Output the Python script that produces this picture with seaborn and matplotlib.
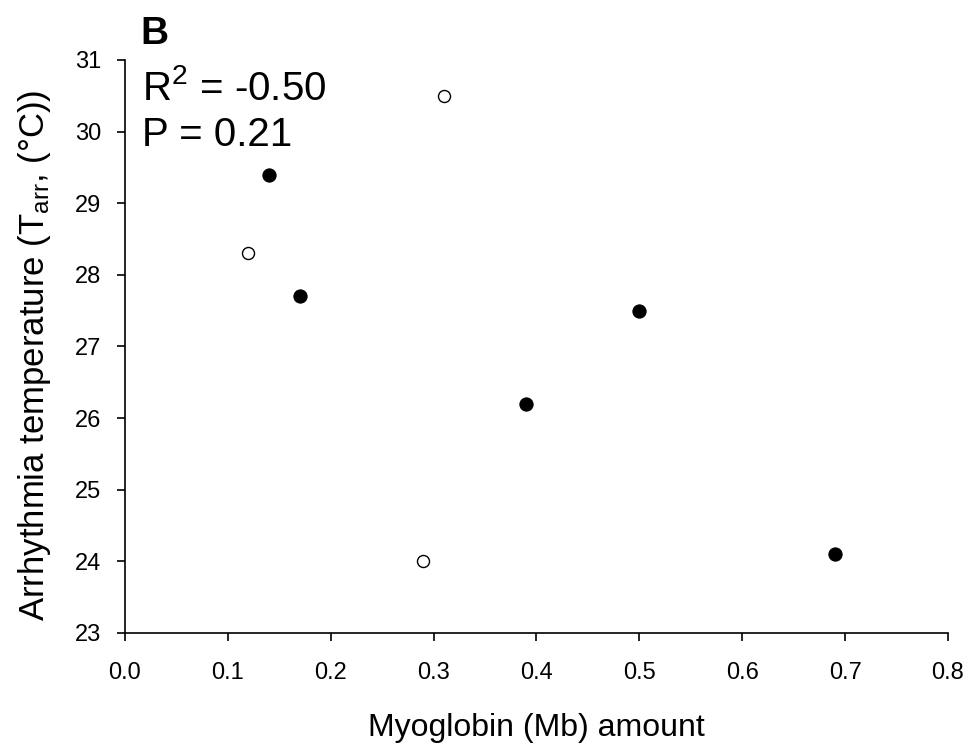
import matplotlib
matplotlib.use("Agg")
import matplotlib.pyplot as plt
import seaborn as sns
import pandas as pd

# Data
open_mb = [0.12, 0.31, 0.29]
open_tarr = [28.3, 30.5, 24.0]
filled_mb = [0.14, 0.17, 0.39, 0.50, 0.69]
filled_tarr = [29.4, 27.7, 26.2, 27.5, 24.1]
x_ticks = [0.0, 0.1, 0.2, 0.3, 0.4, 0.5, 0.6, 0.7, 0.8]
y_ticks = [23, 24, 25, 26, 27, 28, 29, 30, 31]

sns.set_style("ticks")
plt.rcParams['font.family'] = ['Liberation Sans', 'DejaVu Sans']
plt.rcParams['mathtext.fontset'] = 'custom'
plt.rcParams['mathtext.rm'] = 'Liberation Sans'
plt.rcParams['mathtext.it'] = 'Liberation Sans'
plt.rcParams['mathtext.bf'] = 'Liberation Sans:bold'
plt.rcParams['text.color'] = 'black'
plt.rcParams['axes.labelcolor'] = 'black'
plt.rcParams['xtick.color'] = 'black'
plt.rcParams['ytick.color'] = 'black'

fig = plt.figure(figsize=(9.71, 7.46), dpi=100)
ax = fig.add_axes([0.1287, 0.1515, 0.9763 - 0.1287, 0.9196 - 0.1515])

df_open = pd.DataFrame({"mb": open_mb, "tarr": open_tarr})
df_filled = pd.DataFrame({"mb": filled_mb, "tarr": filled_tarr})

sns.scatterplot(data=df_filled, x="mb", y="tarr", ax=ax, s=90, color="black",
                edgecolor="black", linewidth=0.8, zorder=3)
sns.scatterplot(data=df_open, x="mb", y="tarr", ax=ax, s=75, facecolor="white",
                edgecolor="black", linewidth=1.0, zorder=3)

ax.set_xlim(0.0, 0.8)
ax.set_ylim(23, 31)
ax.set_xticks(x_ticks)
ax.set_xticklabels([f"{v:.1f}" for v in x_ticks])
ax.set_yticks(y_ticks)
ax.set_yticklabels([str(v) for v in y_ticks])

for side in ["top", "right"]:
    ax.spines[side].set_visible(False)
for side in ["left", "bottom"]:
    ax.spines[side].set_linewidth(1.2)
    ax.spines[side].set_color("black")

ax.tick_params(axis="both", direction="out", length=6, width=1.2, colors="black",
               labelsize=17)
ax.tick_params(axis="x", pad=15)
ax.tick_params(axis="y", pad=11)

ax.set_xlabel("Myoglobin (Mb) amount", fontsize=23, labelpad=21)
ax.set_ylabel(r"Arrhythmia temperature (T$_{\mathrm{arr}}$, (°C))", fontsize=25, labelpad=16)
ax.yaxis.label.set_y(0.485)

ax.text(0.0207, 0.930, r"R$^{2}$ = -0.50", transform=ax.transAxes, fontsize=29,
        va="baseline", ha="left")
ax.text(0.0207, 0.850, "P = 0.21", transform=ax.transAxes, fontsize=29,
        va="baseline", ha="left")
fig.text(0.145, 0.955, "B", fontsize=28, fontweight="bold", va="center", ha="left")

fig.savefig("out.png", dpi=100)
